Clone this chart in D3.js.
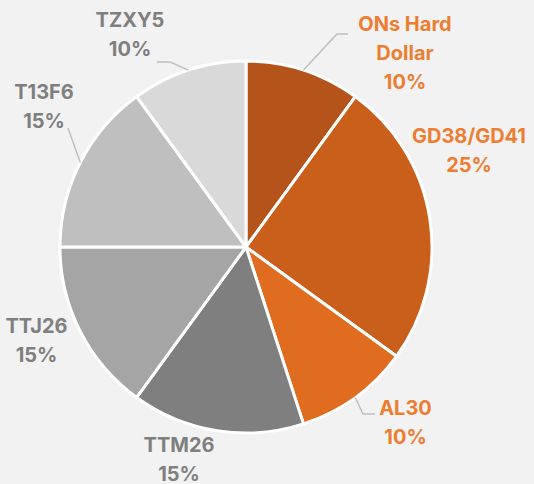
<!DOCTYPE html>
<html>
<head>
<meta charset="utf-8">
<script src="https://cdn.jsdelivr.net/npm/d3@7"></script>
<style>
  html, body { margin: 0; padding: 0; background: #f2f2f2; }
  svg { display: block; }
</style>
</head>
<body>
<svg id="chart" width="534" height="484"></svg>
<script>
// ---- data ----
const categories = ["ONs Hard Dollar", "GD38/GD41", "AL30", "TTM26", "TTJ26", "T13F6", "TZXY5"];
const values = [10, 25, 10, 15, 15, 15, 10];
const percentLabels = ["10%", "25%", "10%", "15%", "15%", "15%", "10%"];
// label text lines (as shown in the chart)
const labelLines = [["ONs Hard", "Dollar"], ["GD38/GD41"], ["AL30"], ["TTM26"], ["TTJ26"], ["T13F6"], ["TZXY5"]];

// ---- styles / layout ----
const sliceColors = ["#b4531a", "#c95f1b", "#e06c1f", "#7f7f7f", "#a5a5a5", "#bfbfbf", "#d9d9d9"];
const labelColors = ["#ed7d31", "#ed7d31", "#ed7d31", "#7f7f7f", "#7f7f7f", "#7f7f7f", "#7f7f7f"];
const W = 534, H = 484;
const cx = 246, cy = 247, R = 186;
// label block centre (first line centre) offsets relative to pie centre
const labelOffsets = [[159, -195 - 28], [223, -96 - 15], [159.5, 175.5 - 14.5], [-67, 212.5 - 14.5],
                      [-209.5, 93.5 - 14.5], [-202, -140.5 - 14.5], [-116, -212 - 15]];
// leader lines: elbow and end relative to pie centre (start at slice mid-angle on edge)
const leaders = {
  0: [[91, -213], [102, -213]],
  2: [[117, 167], [129, 167]],
  5: [[-178, -119]],
  6: [[-76, -185], [-89, -185]]
};
const lineH = 29;

const svg = d3.select("#chart");
const g = svg.append("g").attr("transform", `translate(${cx},${cy})`);

const pie = d3.pie().sort(null).value(d => d.v);
const data = categories.map((c, i) => ({ c, v: values[i], i }));
const arcs = pie(data);
const arc = d3.arc().innerRadius(0).outerRadius(R);

g.selectAll("path.slice")
  .data(arcs)
  .join("path")
  .attr("class", "slice")
  .attr("d", arc)
  .attr("fill", d => sliceColors[d.data.i])
  .attr("stroke", "#ffffff")
  .attr("stroke-width", 3)
  .attr("stroke-linejoin", "round");

// leader lines
arcs.forEach(a => {
  const pts = leaders[a.data.i];
  if (!pts) return;
  const mid = (a.startAngle + a.endAngle) / 2;
  const start = d3.pointRadial(mid, R);
  g.append("path")
    .attr("d", d3.line()([start, ...pts]))
    .attr("fill", "none")
    .attr("stroke", "#bfbfbf")
    .attr("stroke-width", 1.5);
});

// labels
const font = "Inter, 'Noto Sans', sans-serif";
arcs.forEach(a => {
  const i = a.data.i;
  const [ox, oy] = labelOffsets[i];
  const lines = [...labelLines[i], percentLabels[i]];
  const t = g.append("text")
    .attr("text-anchor", "middle")
    .attr("font-family", font)
    .attr("font-weight", 700)
    .attr("font-size", 20)
    .attr("fill", labelColors[i]);
  lines.forEach((s, k) => {
    t.append("tspan")
      .attr("x", ox)
      .attr("y", oy + k * lineH + 7)
      .text(s);
  });
});
</script>
</body>
</html>
